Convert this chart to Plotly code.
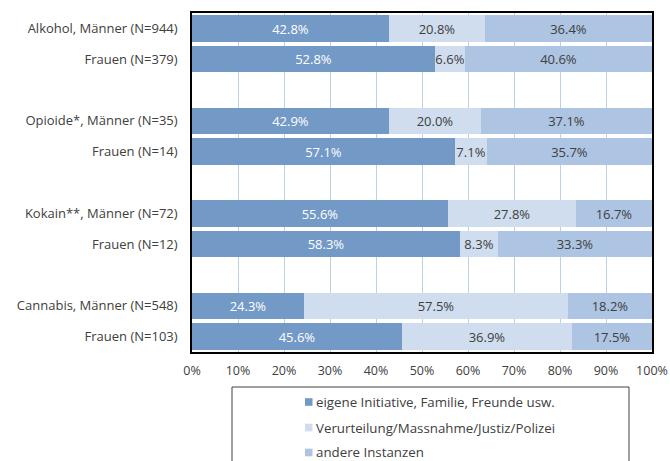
import plotly.graph_objects as go

categories = ["Alkohol, Männer (N=944)", "Frauen (N=379)",
              "Opioide*, Männer (N=35)", "Frauen (N=14)",
              "Kokain**, Männer (N=72)", "Frauen (N=12)",
              "Cannabis, Männer (N=548)", "Frauen (N=103)"]
slots = [0, 1, 3, 4, 6, 7, 9, 10]
eigene = [42.8, 52.8, 42.9, 57.1, 55.6, 58.3, 24.3, 45.6]
justiz = [20.8, 6.6, 20.0, 7.1, 27.8, 8.3, 57.5, 36.9]
andere = [36.4, 40.6, 37.1, 35.7, 16.7, 33.3, 18.2, 17.5]
series_names = ["eigene Initiative, Familie, Freunde usw.",
                "Verurteilung/Massnahme/Justiz/Polizei",
                "andere Instanzen"]
colors = ["#7399C6", "#CFDDEE", "#ADC4E2"]
text_colors = ["#FFFFFF", "#404040", "#404040"]
xticks = [0, 10, 20, 30, 40, 50, 60, 70, 80, 90, 100]

FONT = "Open Sans"
W, H = 670, 461
L, T = 192, 13
R = W - 652
B = H - 352
pw, ph = W - L - R, H - T - B

def px_x(x):
    return (x - L) / pw

def px_y(y):
    return (H - B - y) / ph

fig = go.Figure()
for name, vals, c, tc in zip(series_names, [eigene, justiz, andere], colors, text_colors):
    fig.add_trace(go.Bar(
        y=slots, x=vals, orientation="h", name=name,
        marker=dict(color=c, line=dict(width=0)),
        width=0.86,
        text=[f"{v:.1f}%" for v in vals],
        textposition="inside", insidetextanchor="middle",
        constraintext="none",
        textfont=dict(color=tc, size=13, family=FONT),
        showlegend=False,
    ))

# legend drawn as box + squares + labels
shapes = [dict(type="rect", xref="paper", yref="paper",
               x0=px_x(232), x1=px_x(629), y0=px_y(387), y1=px_y(475),
               line=dict(color="#404040", width=1), fillcolor="rgba(0,0,0,0)")]
annotations = []
leg_y = [402, 427.5, 452.5]
for name, c, yy in zip(series_names, colors, leg_y):
    shapes.append(dict(type="rect", xref="paper", yref="paper",
                       x0=px_x(305), x1=px_x(312.5), y0=px_y(yy - 3.8), y1=px_y(yy + 3.8),
                       line=dict(width=0), fillcolor=c))
    annotations.append(dict(xref="paper", yref="paper", x=px_x(314), y=px_y(yy),
                            xanchor="left", yanchor="middle", showarrow=False,
                            text=name, font=dict(family=FONT, size=13.3, color="#404040")))

fig.update_layout(
    barmode="stack",
    width=W, height=H,
    margin=dict(l=L, r=R, t=T, b=B, autoexpand=False),
    plot_bgcolor="white", paper_bgcolor="white",
    font=dict(family=FONT, size=13, color="#404040"),
    bargap=0,
    showlegend=False,
    shapes=shapes,
    annotations=annotations,
)
fig.update_xaxes(range=[0, 100], tickvals=xticks,
                 ticktext=[f"{t}%" for t in xticks],
                 showgrid=True, gridcolor="#BDD0E8", gridwidth=1,
                 showline=True, linecolor="black", linewidth=1.5, mirror=True,
                 ticks="", zeroline=False, tickfont=dict(size=12.5),
                 ticklabelstandoff=6)
fig.update_yaxes(range=[10.5, -0.5], tickvals=slots, ticktext=categories,
                 showgrid=False, showline=True, linecolor="black", linewidth=1.5,
                 mirror=True, ticks="", zeroline=False,
                 tickfont=dict(size=13), ticklabelstandoff=10)

fig.write_html("out.html",
               config={"displayModeBar": False},
               post_script="document.body.style.margin='0';"
                           "document.body.style.overflow='hidden';")
